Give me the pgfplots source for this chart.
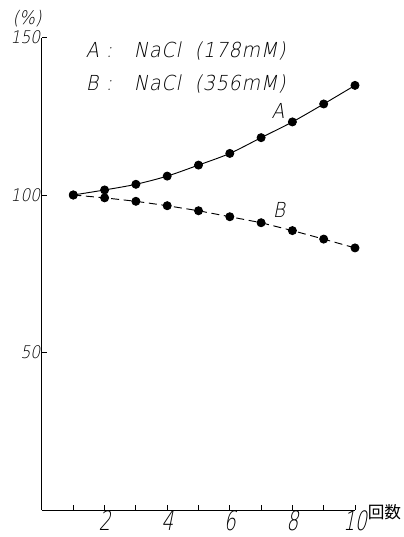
\documentclass[border=0pt]{standalone}
\usepackage{fontspec}
\setmainfont{Liberation Sans}
\newfontfamily\xfont{DejaVu Sans ExtraLight}[FakeSlant=0.2,FakeStretch=0.7]
\newfontfamily\yfont{DejaVu Sans ExtraLight}[FakeSlant=0.2,FakeStretch=0.9]
\newfontfamily\lfont{DejaVu Sans ExtraLight}[FakeSlant=0.2,FakeStretch=0.92,LetterSpace=4]
\newfontfamily\pfont{DejaVu Sans ExtraLight}[FakeSlant=0.2,FakeStretch=0.9]
\newfontfamily\cjk{Noto Sans CJK JP}
\usepackage{pgfplots}
\pgfplotsset{compat=1.18}
\pgfplotstableread{
x y
1 100
2 101.6
3 103.4
4 106.0
5 109.5
6 113.2
7 118.2
8 123.2
9 128.9
10 134.8
}\dataA
\pgfplotstableread{
x y
1 100
2 99.1
3 98.0
4 96.6
5 95.0
6 93.1
7 91.2
8 88.7
9 86.0
10 83.2
}\dataB
\begin{document}
\begin{tikzpicture}
\useasboundingbox (-31.5pt,-20.25pt) rectangle (271.5pt,382.5pt);
\begin{axis}[
  at={(0,0)}, anchor=south west,
  scale only axis, width=234.75pt, height=354.375pt,
  xmin=0, xmax=10, ymin=0, ymax=150,
  axis x line*=bottom, axis y line*=left,
  axis line style={line width=0.75pt},
  clip=false,
  xtick={1,2,3,4,5,6,7,8,9,10},
  xticklabels={,2,,4,,6,,8,,10},
  ytick={50,100,150},
  yticklabels={50,100,150},
  tick align=inside,
  major tick length=3.5pt,
  tick style={line width=0.7pt, black},
  xticklabel style={font=\xfont\fontsize{20}{20}\selectfont, inner sep=0.5pt},
  yticklabel style={font=\yfont\fontsize{13}{13}\selectfont, inner sep=1pt},
]
\addplot[black, line width=0.7pt, smooth, mark=*, mark size=3pt] table {\dataA};
\addplot[black, line width=0.7pt, dash pattern=on 6pt off 3.5pt, mark=*, mark size=3pt, mark options={solid}] table {\dataB};
\node[anchor=base west, inner sep=0, font=\lfont\fontsize{15.5}{15.5}\selectfont] at (axis cs:1.39,143.8) {A};
\node[anchor=base west, inner sep=0, font=\lfont\fontsize{15.5}{15.5}\selectfont] at (axis cs:2.03,143.8) {:};
\node[anchor=base west, inner sep=0, font=\lfont\fontsize{15.5}{15.5}\selectfont] at (axis cs:2.93,143.8) {NaCl\ \ (178mM)};
\node[anchor=base west, inner sep=0, font=\lfont\fontsize{15.5}{15.5}\selectfont] at (axis cs:1.39,133.3) {B};
\node[anchor=base west, inner sep=0, font=\lfont\fontsize{15.5}{15.5}\selectfont] at (axis cs:2.03,133.3) {:};
\node[anchor=base west, inner sep=0, font=\lfont\fontsize{15.5}{15.5}\selectfont] at (axis cs:2.93,133.3) {NaCl\ \ (356mM)};
\node[anchor=base west, inner sep=0, font=\pfont\fontsize{15.5}{15.5}\selectfont] at (axis cs:7.33,124.4) {A};
\node[anchor=base west, inner sep=0, font=\pfont\fontsize{15.5}{15.5}\selectfont] at (axis cs:7.37,92.7) {B};
\node[inner sep=0, font=\yfont\fontsize{14}{14}\selectfont] at (axis cs:-0.476,156) {(\%)};
\node[anchor=west, inner sep=0, font=\cjk\fontsize{12.5}{12.5}\selectfont] at (axis cs:10.4,-0.8) {回数};
\end{axis}
\end{tikzpicture}
\end{document}
